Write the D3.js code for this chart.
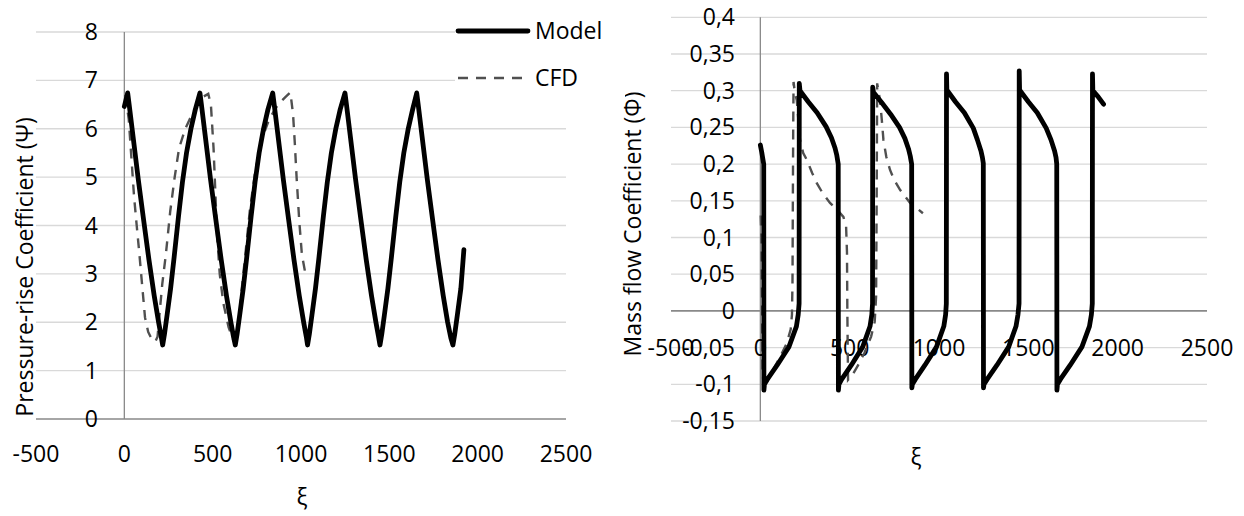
<!DOCTYPE html>
<html>
<head>
<meta charset="utf-8">
<script src="https://cdn.jsdelivr.net/npm/d3@7"></script>
<style>
  html, body { margin: 0; padding: 0; background: #fff; }
  svg { display: block; }
  text { font-family: "Open Sans", "Liberation Sans", sans-serif; fill: #000; }
</style>
</head>
<body>
<svg id="chart" width="1244" height="516"></svg>
<script>
// ---- Pressure-rise coefficient Ψ versus ξ ----
const psiTicks = [0, 1, 2, 3, 4, 5, 6, 7, 8];
const psiTickLabels = ["0", "1", "2", "3", "4", "5", "6", "7", "8"];
const xiTicks = [-500, 0, 500, 1000, 1500, 2000, 2500];
const xiTickLabels = ["-500", "0", "500", "1000", "1500", "2000", "2500"];

const modelPsi = [
  [0, 6.46], [19, 6.74], [29, 6.45], [49, 5.85], [79, 4.95], [109, 4.12], [139, 3.3], [169, 2.55], [194, 2.0], [209, 1.7], [217, 1.53],
  [227, 1.75], [242, 2.15], [262, 2.7], [282, 3.35], [307, 4.2], [329, 4.9], [352, 5.5], [377, 6.0], [402, 6.4], [428, 6.74],
  [438, 6.45], [458, 5.85], [488, 4.95], [518, 4.12], [548, 3.3], [578, 2.55], [603, 2.0], [618, 1.7], [628, 1.53],
  [638, 1.75], [653, 2.15], [673, 2.7], [693, 3.35], [718, 4.2], [740, 4.9], [763, 5.5], [788, 6.0], [813, 6.4], [840, 6.74],
  [850, 6.45], [870, 5.85], [900, 4.95], [930, 4.12], [960, 3.3], [990, 2.55], [1015, 2.0], [1030, 1.7], [1037, 1.53],
  [1047, 1.75], [1062, 2.15], [1082, 2.7], [1102, 3.35], [1127, 4.2], [1149, 4.9], [1172, 5.5], [1197, 6.0], [1222, 6.4], [1249, 6.74],
  [1259, 6.45], [1279, 5.85], [1309, 4.95], [1339, 4.12], [1369, 3.3], [1399, 2.55], [1424, 2.0], [1439, 1.7], [1447, 1.53],
  [1457, 1.75], [1472, 2.15], [1492, 2.7], [1512, 3.35], [1537, 4.2], [1559, 4.9], [1582, 5.5], [1607, 6.0], [1632, 6.4], [1655, 6.74],
  [1665, 6.45], [1685, 5.85], [1715, 4.95], [1745, 4.12], [1775, 3.3], [1805, 2.55], [1830, 2.0], [1848, 1.68], [1860, 1.53],
  [1870, 1.75], [1885, 2.15], [1905, 2.7], [1922, 3.5]
];

const cfdPsi = [
  [5, 6.7], [25, 6.2], [40, 5.4], [55, 4.6], [70, 4.0], [83, 3.5], [100, 2.8], [117, 2.1], [135, 1.8], [155, 1.65], [175, 1.6],
  [188, 1.7], [200, 2.2], [215, 2.8], [235, 3.4], [260, 4.3], [285, 5.0], [310, 5.6], [345, 6.0], [390, 6.35], [440, 6.65], [475, 6.72],
  [490, 6.5], [505, 5.6], [515, 4.7], [525, 3.8], [540, 3.0], [560, 2.4], [590, 1.9], [615, 1.65], [635, 1.62],
  [650, 2.0], [665, 2.7], [685, 3.4], [710, 4.3], [740, 5.1], [780, 5.8], [820, 6.2], [870, 6.5], [910, 6.65], [940, 6.75],
  [955, 6.3], [965, 5.7], [975, 5.0], [990, 4.1], [1005, 3.4], [1025, 3.0]
];

// ---- Mass flow coefficient Φ versus ξ ----
const phiTicks = [-0.15, -0.1, -0.05, 0, 0.05, 0.1, 0.15, 0.2, 0.25, 0.3, 0.35, 0.4];
const phiTickLabels = ["-0,15", "-0,1", "-0,05", "0", "0,05", "0,1", "0,15", "0,2", "0,25", "0,3", "0,35", "0,4"];

const modelPhi = [
  [0, 0.226], [8, 0.216], [14, 0.207], [19, 0.2], [20, -0.108],
  [23, -0.1], [40, -0.093], [94, -0.074], [160, -0.049], [202, -0.021], [212, -0.005], [217, 0.01],
  [218, 0.31], [222, 0.3],
  [268, 0.285], [318, 0.27], [368, 0.251], [398, 0.236], [418, 0.222], [428, 0.212], [436, 0.2], [437, -0.108],
  [440, -0.1], [456, -0.093], [509, -0.074], [573, -0.049], [614, -0.021], [624, -0.005], [628, 0.01],
  [629, 0.305], [633, 0.298],
  [679, 0.284], [729, 0.268], [779, 0.25], [809, 0.235], [829, 0.221], [839, 0.211], [847, 0.2], [848, -0.105],
  [851, -0.1], [868, -0.093], [921, -0.074], [986, -0.049], [1027, -0.021], [1037, -0.005], [1041, 0.01],
  [1042, 0.323], [1044, 0.301],
  [1092, 0.285], [1142, 0.27], [1192, 0.249], [1215, 0.233], [1235, 0.218], [1243, 0.209], [1248, 0.201], [1249, -0.105],
  [1252, -0.1], [1270, -0.093], [1324, -0.074], [1390, -0.049], [1431, -0.021], [1442, -0.005], [1448, 0.01],
  [1449, 0.327], [1451, 0.301],
  [1500, 0.285], [1550, 0.27], [1600, 0.249], [1627, 0.233], [1647, 0.218], [1655, 0.209], [1659, 0.2], [1660, -0.108],
  [1663, -0.1], [1680, -0.093], [1734, -0.074], [1800, -0.049], [1842, -0.021], [1853, -0.005], [1858, 0.01],
  [1859, 0.323], [1861, 0.3], [1890, 0.292], [1921, 0.2816]
];

const cfdPhi = [
  [2, 0.13], [6, 0.1], [10, 0.0], [13, -0.09], [20, -0.095],
  [45, -0.09], [73, -0.08], [120, -0.058], [148, -0.044], [170, -0.025], [177, -0.005], [180, 0.04], [182, 0.15], [184, 0.25], [186, 0.312],
  [192, 0.3], [204, 0.287], [213, 0.26], [222, 0.233], [240, 0.215], [260, 0.206], [290, 0.188], [316, 0.174], [350, 0.16], [390, 0.147],
  [430, 0.138], [465, 0.128], [480, 0.115], [485, 0.08], [487, 0.0], [489, -0.05], [491, -0.094],
  [513, -0.088], [545, -0.075], [583, -0.057], [620, -0.035], [640, -0.015], [648, 0.02], [651, 0.15], [654, 0.31],
  [662, 0.298], [670, 0.287], [680, 0.26], [689, 0.233], [705, 0.21], [726, 0.192], [750, 0.178], [782, 0.165], [810, 0.156],
  [838, 0.147], [875, 0.14], [910, 0.133]
];

const seriesNames = ["Model", "CFD"];

// ---- drawing ----
const svg = d3.select("#chart");
const FONT = 23;
const GRID = "#d9d9d9";
const AXIS = "#898989";
const MODEL_COLOR = "#000000";
const CFD_COLOR = "#505050";

function panel(cfg) {
  const g = svg.append("g");
  const x = d3.scaleLinear().domain([-500, 2500]).range(cfg.xRange);
  const y = d3.scaleLinear().domain(cfg.yDomain).range(cfg.yRange);

  // horizontal gridlines
  g.append("g").selectAll("line").data(cfg.yTicks.filter(v => v !== 0)).join("line")
    .attr("x1", x(-500)).attr("x2", x(2500))
    .attr("y1", d => y(d)).attr("y2", d => y(d))
    .attr("stroke", GRID).attr("stroke-width", 1.3);

  // axes crossing at zero
  g.append("line")
    .attr("x1", x(-500)).attr("x2", x(2500)).attr("y1", y(0)).attr("y2", y(0))
    .attr("stroke", AXIS).attr("stroke-width", 1.6);
  g.append("line")
    .attr("x1", x(0)).attr("x2", x(0)).attr("y1", y(cfg.yDomain[0])).attr("y2", y(cfg.yDomain[1]))
    .attr("stroke", AXIS).attr("stroke-width", 1.3);

  // y tick labels
  g.append("g").selectAll("text").data(cfg.yTicks).join("text")
    .attr("x", cfg.yLabelX).attr("y", d => y(d)).attr("dy", "0.35em")
    .attr("text-anchor", "end").attr("font-size", FONT)
    .text((d, i) => cfg.yTickLabels[i]);

  // x tick labels (just below the zero line)
  g.append("g").selectAll("text").data(xiTicks).join("text")
    .attr("x", d => x(d)).attr("y", y(0) + cfg.xLabelOffset).attr("dy", "0.35em")
    .attr("text-anchor", "middle").attr("font-size", FONT)
    .text((d, i) => xiTickLabels[i]);

  // axis titles
  g.append("text")
    .attr("transform", `translate(${cfg.yTitle[0]},${cfg.yTitle[1]}) rotate(-90)`)
    .attr("dy", "0.35em").attr("text-anchor", "middle").attr("font-size", FONT)
    .text(cfg.yTitleText);
  g.append("text")
    .attr("x", cfg.xTitle[0]).attr("y", cfg.xTitle[1]).attr("dy", "0.35em")
    .attr("text-anchor", "middle").attr("font-size", FONT)
    .text("ξ");

  const line = d3.line().x(d => x(d[0])).y(d => y(d[1]));

  g.append("path").datum(cfg.cfd)
    .attr("d", line).attr("fill", "none")
    .attr("stroke", CFD_COLOR).attr("stroke-width", 2.4)
    .attr("stroke-dasharray", "10,8");
  g.append("path").datum(cfg.model)
    .attr("d", line).attr("fill", "none")
    .attr("stroke", MODEL_COLOR).attr("stroke-width", 4.8)
    .attr("stroke-linejoin", "round").attr("stroke-linecap", "round");
  return g;
}

panel({
  xRange: [36, 566], yDomain: [0, 8], yRange: [419, 32],
  yTicks: psiTicks, yTickLabels: psiTickLabels, yLabelX: 98, xLabelOffset: 35,
  yTitle: [25, 267], yTitleText: "Pressure-rise Coefficient (Ψ)", xTitle: [302, 497],
  model: modelPsi, cfd: cfdPsi
});

panel({
  xRange: [671, 1207], yDomain: [-0.15, 0.4], yRange: [421, 17.3],
  yTicks: phiTicks, yTickLabels: phiTickLabels, yLabelX: 735, xLabelOffset: 37,
  yTitle: [633, 224], yTitleText: "Mass flow Coefficient (Φ)", xTitle: [916, 457],
  model: modelPhi, cfd: cfdPhi
});

// legend (white box over the upper-right of the left panel)
const leg = svg.append("g");
leg.append("rect").attr("x", 455).attr("y", 8).attr("width", 170).attr("height", 95).attr("fill", "#fff");
const legRows = [
  { name: seriesNames[0], y: 31, color: MODEL_COLOR, width: 4.8, dash: null, x2: 528 },
  { name: seriesNames[1], y: 78, color: CFD_COLOR, width: 2.4, dash: "10,8", x2: 523 }
];
legRows.forEach(r => {
  leg.append("line").attr("x1", 458).attr("x2", r.x2).attr("y1", r.y).attr("y2", r.y)
    .attr("stroke", r.color).attr("stroke-width", r.width)
    .attr("stroke-linecap", r.dash ? "butt" : "round")
    .attr("stroke-dasharray", r.dash);
  leg.append("text").attr("x", 535).attr("y", r.y).attr("dy", "0.35em")
    .attr("font-size", FONT).text(r.name);
});
</script>
</body>
</html>
